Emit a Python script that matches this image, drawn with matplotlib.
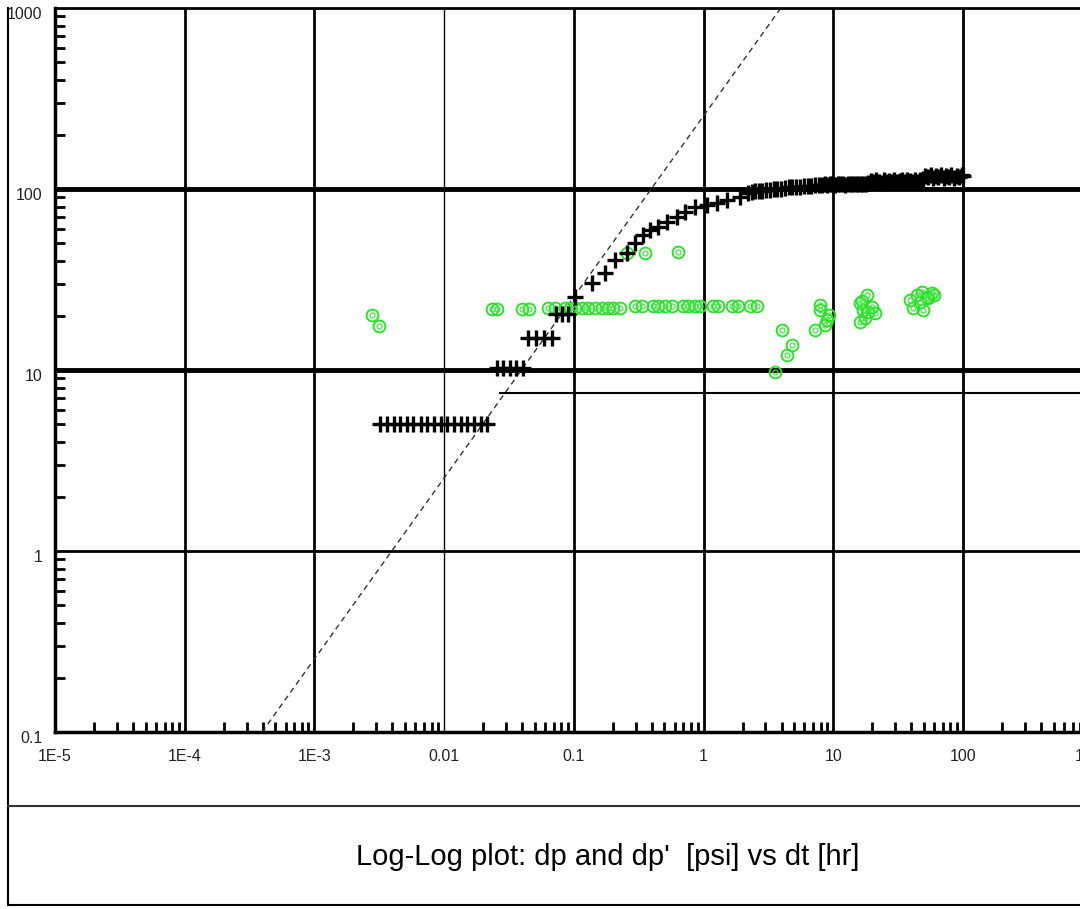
import matplotlib
matplotlib.use('Agg')
from matplotlib import pyplot as plt
from matplotlib.lines import Line2D
from matplotlib.ticker import LogLocator, FixedLocator, NullFormatter
from matplotlib.transforms import ScaledTranslation

plt.rcParams['font.family'] = ['Liberation Sans Narrow', 'Liberation Sans', 'DejaVu Sans']

# dp (black crosses)
dp_t = [0.0032, 0.0036, 0.0041, 0.0046, 0.0052, 0.0058, 0.0066, 0.0074, 0.0083,
        0.0094, 0.0106, 0.0119, 0.0134, 0.0151, 0.0170, 0.0191, 0.0216,
        0.0256, 0.0284, 0.0322, 0.0358, 0.0405,
        0.0443, 0.0512, 0.0589, 0.0679,
        0.0729, 0.0811, 0.0901,
        0.102, 0.137, 0.174, 0.208, 0.256, 0.297, 0.344, 0.387, 0.449, 0.520,
        0.621, 0.720, 0.859, 1.06, 1.26, 1.51, 1.91, 2.21,
        2.35, 2.50, 2.67, 2.85, 3.05, 3.25, 3.48, 3.72, 3.97, 4.25, 4.55,
        4.85, 5.2, 5.55, 5.95, 6.35, 6.8, 7.25, 7.75,
        8.2, 8.6, 9.0, 9.4, 9.8, 10.3, 10.8, 11.3, 11.8, 12.4, 13.0, 13.6,
        14.2, 14.9, 15.6, 16.3, 17.1, 17.9,
        18.7, 19.6, 20.5, 21.5, 22.5, 23.5, 24.6, 25.8, 27.0, 28.3, 29.6,
        31.0, 32.5, 34.0, 35.6, 37.3, 39.0, 40.9, 42.8, 44.8, 46.9,
        49.1, 51.4, 53.8, 56.4, 59.0, 61.8, 64.7, 67.8, 71.0, 74.4, 77.9,
        81.5, 85.4, 89.4, 93.6, 98.0, 100.0]
dp_val = [5.0] * 17 + [10.3] * 5 + [15.0] * 4 + [20.3] * 3 + \
         [25.4, 30.1, 34.2, 40.5, 44.2, 50.1, 55.7, 59.3, 61.9, 65.9,
          70.3, 74.9, 79.8, 81.6, 83.4, 86.9, 90.7, 94.7,
          96, 97, 98, 98, 99, 99, 100, 100, 100, 101, 102,
          102, 103, 103, 104, 104, 104, 105, 105,
          105, 107, 105, 106, 107, 105, 107, 106, 107, 105, 107, 106,
          107, 106, 107, 106, 107, 106,
          108, 111, 109, 112, 110, 108, 112, 109, 111, 110, 112,
          109, 111, 112, 110, 112, 111, 109, 112, 110, 112,
          114, 118, 116, 119, 115, 118, 116, 119, 115, 118, 117,
          119, 115, 118, 116, 119, 118]

# dp' (green circles)
der_t = [0.00277, 0.00316,
         0.0233, 0.0255, 0.0396, 0.0449, 0.0637, 0.0717, 0.0855, 0.0935,
         0.102, 0.116, 0.129, 0.146, 0.165, 0.184, 0.201, 0.227,
         0.297, 0.336, 0.408, 0.446, 0.505, 0.571, 0.695, 0.759, 0.859, 0.94,
         1.18, 1.29, 1.66, 1.85, 2.28, 2.58,
         0.257, 0.354, 0.635,
         3.56, 4.01, 4.37, 4.79, 7.24, 7.91, 7.91, 8.65, 9.0, 9.3,
         16.1, 18.1, 17.1, 19.8, 21.0, 16.1, 17.5, 18.6, 16.8,
         39.1, 44.0, 48.1, 52.6, 57.5, 41.4, 49.5, 46.7, 54.2, 59.4]
der_val = [20.1, 17.5,
           21.7, 21.7, 21.7, 21.7, 22.0, 22.0, 22.0, 22.0,
           22.0, 22.0, 22.0, 22.0, 22.0, 22.0, 22.0, 22.0,
           22.5, 22.5, 22.5, 22.5, 22.5, 22.5, 22.5, 22.5, 22.5, 22.5,
           22.5, 22.5, 22.7, 22.7, 22.7, 22.7,
           44.3, 44.3, 44.8,
           9.8, 16.6, 12.1, 13.7, 16.6, 22.8, 21.4, 17.7, 18.9, 20.1,
           23.4, 25.9, 21.4, 22.4, 20.6, 18.5, 19.3, 21.0, 24.0,
           24.4, 25.9, 27.1, 25.4, 26.5, 21.9, 21.4, 23.8, 24.9, 26.0]

# unit-slope line and dp' stabilisation line
slope_t = [3.95e-4, 3.95]
slope_dp = [0.1, 1000]
flat_t = [0.027, 2000]
flat_dp = [7.5, 7.5]

x_ticks = [1e-5, 1e-4, 1e-3, 1e-2, 1e-1, 1, 10, 100, 1000]
x_labels = ['1E-5', '1E-4', '1E-3', '0.01', '0.1', '1', '10', '100', '1000']
y_ticks = [0.1, 1, 10, 100, 1000]
y_labels = ['0.1', '1', '10', '100', '1000']

fig = plt.figure(figsize=(10.8, 9.09), dpi=100)
ax = fig.add_axes([55 / 1080, 177 / 909, 1037.6 / 1080, 724 / 909])
ax.set_xscale('log')
ax.set_yscale('log')
ax.set_xlim(1e-5, 1e3)
ax.set_ylim(0.1, 1000)

# grid lines
for xv in x_ticks[1:-1]:
    ax.axvline(xv, color='black', lw=1.0 if xv == 1e-2 else 2.0, zorder=1)
for yv in y_ticks[1:-1]:
    ax.axhline(yv, color='black', lw=2.0 if yv == 1 else 3.5, zorder=1)

ax.plot(slope_t, slope_dp, color='#333333', lw=1.0, ls=(0, (4, 3)), zorder=2)
ax.plot(flat_t, flat_dp, color='black', lw=1.5, zorder=2)

ax.plot(der_t, der_val, ls='none', marker='o', markersize=8.5,
        markerfacecolor='none', markeredgecolor='#2ee02e', markeredgewidth=1.4, zorder=3)
ax.plot(der_t, der_val, ls='none', marker='o', markersize=3.6,
        markerfacecolor='none', markeredgecolor='#44e844', markeredgewidth=0.9, zorder=3)
ax.plot(dp_t, dp_val, ls='none', marker='+', markersize=11,
        color='black', markeredgewidth=2.4, zorder=4)

ax.xaxis.set_major_locator(FixedLocator(x_ticks))
ax.yaxis.set_major_locator(FixedLocator(y_ticks))
ax.set_xticklabels(x_labels)
ax.set_yticklabels(y_labels)
ax.xaxis.set_minor_locator(LogLocator(base=10, subs=range(2, 10), numticks=20))
ax.yaxis.set_minor_locator(LogLocator(base=10, subs=range(2, 10), numticks=20))
ax.xaxis.set_minor_formatter(NullFormatter())
ax.yaxis.set_minor_formatter(NullFormatter())
ax.tick_params(which='major', length=0, labelsize=11.5, labelcolor='#222222')
ax.tick_params(axis='x', which='major', pad=12)
ax.tick_params(axis='y', which='major', pad=9)
ax.tick_params(which='minor', direction='in', length=7.5, width=2.0, color='black')
for lab in ax.get_yticklabels():
    lab.set_transform(lab.get_transform() + ScaledTranslation(0, -5 / 100, fig.dpi_scale_trans))

for side in ['left', 'bottom']:
    ax.spines[side].set_linewidth(2.5)
ax.spines['top'].set_linewidth(2.0)
ax.spines['right'].set_visible(False)

# outer frame and title box
fx0 = 8 / 1080
fig.add_artist(Line2D([fx0, fx0], [4 / 909, 901 / 909], color='black', lw=1.5))
fig.add_artist(Line2D([fx0, 1], [4 / 909, 4 / 909], color='black', lw=1.5))
fig.add_artist(Line2D([fx0, 1], [103 / 909, 103 / 909], color='#333333', lw=1.5))
fig.text(608 / 1080, 52 / 909, "Log-Log plot: dp and dp'  [psi] vs dt [hr]",
         ha='center', va='center', fontsize=21, color='black')

fig.savefig('out.png', dpi=100)
